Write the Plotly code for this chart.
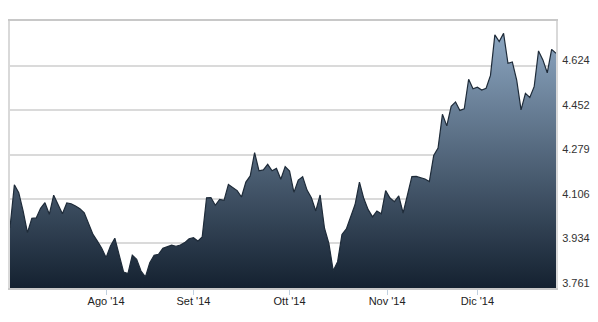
import numpy as np
import pandas as pd
import plotly.graph_objects as go

# Trading days (Borsa Italiana, Jul 2 - Dec 30 2014)
start_date = "2014-07-02"
end_date = "2014-12-30"
holidays = ["2014-08-15", "2014-12-24", "2014-12-25", "2014-12-26"]

prices = [
    3.995, 4.161, 4.131, 4.060, 3.976, 4.031, 4.033, 4.070, 4.092, 4.047,
    4.121, 4.086, 4.049, 4.091, 4.088, 4.079, 4.069, 4.053, 4.014, 3.969,
    3.943, 3.915, 3.879, 3.924, 3.954, 3.885, 3.823, 3.817, 3.888, 3.872,
    3.827, 3.804, 3.859, 3.888, 3.892, 3.915, 3.920, 3.927, 3.923, 3.928,
    3.937, 3.952, 3.956, 3.943, 3.959, 4.111, 4.112, 4.082, 4.105, 4.101,
    4.163, 4.151, 4.139, 4.114, 4.172, 4.196, 4.286, 4.216, 4.219, 4.241,
    4.216, 4.225, 4.183, 4.232, 4.215, 4.132, 4.180, 4.193, 4.141, 4.111,
    4.060, 4.122, 3.993, 3.934, 3.828, 3.863, 3.969, 3.990, 4.035, 4.085,
    4.172, 4.108, 4.065, 4.037, 4.060, 4.049, 4.139, 4.110, 4.096, 4.118,
    4.052, 4.127, 4.193, 4.194, 4.190, 4.184, 4.174, 4.275, 4.304, 4.435,
    4.390, 4.466, 4.483, 4.450, 4.456, 4.571, 4.534, 4.540, 4.529, 4.536,
    4.586, 4.743, 4.717, 4.749, 4.633, 4.638, 4.568, 4.452, 4.516, 4.500,
    4.542, 4.681, 4.646, 4.596, 4.687, 4.672,
]

month_starts = ["2014-08-01", "2014-09-01", "2014-10-01", "2014-11-01", "2014-12-01"]
month_labels = ["Ago '14", "Set '14", "Ott '14", "Nov '14", "Dic '14"]

y_ticks = [3.761, 3.934, 4.106, 4.279, 4.452, 4.624]
y_labels = ["3.761", "3.934", "4.106", "4.279", "4.452", "4.624"]
y_min, y_max = 3.761, 4.797

dates = pd.bdate_range(start_date, end_date)
dates = dates[~dates.isin(pd.to_datetime(holidays))]
n = len(prices)
dates = dates[:n]
x_idx = np.arange(n)

# ordinal positions of month starts
tick_pos = []
for m in pd.to_datetime(month_starts):
    i = int(np.searchsorted(dates.values, np.datetime64(m)))
    if i < n and dates[i] == m:
        tick_pos.append(float(i))
    else:
        a, b = dates[i - 1], dates[i]
        tick_pos.append(i - 1 + (m - a) / (b - a))

fig = go.Figure()
fig.add_trace(go.Scatter(
    x=x_idx, y=prices, mode="lines",
    line=dict(color="#1e2b39", width=1.2),
    fill="tozeroy",
    fillgradient=dict(type="vertical",
                      colorscale=[[0, "#142130"], [1, "#8ca6c1"]],
                      start=y_min, stop=max(prices)),
    hovertext=[d.strftime("%d/%m/%Y") for d in dates],
    showlegend=False,
))

fig.update_layout(
    width=598, height=322,
    margin=dict(l=8, r=41, t=21, b=34),
    paper_bgcolor="white", plot_bgcolor="white",
    font=dict(family="Liberation Sans, Arial, sans-serif", size=11, color="#333333"),
    xaxis=dict(
        range=[0, n - 1],
        tickvals=tick_pos, ticktext=month_labels,
        showgrid=False, zeroline=False,
        showline=True, linecolor="#c8c8c8", linewidth=2, mirror=True,
        ticks="outside", ticklen=5, tickcolor="#c0d0e0", tickwidth=1,
        ticklabelstandoff=-3,
        tickfont=dict(size=11, color="#222222"),
    ),
    yaxis=dict(
        range=[y_min, y_max], side="right",
        tickvals=y_ticks, ticktext=y_labels,
        showgrid=True, gridcolor="#dadada", gridwidth=2,
        zeroline=False,
        showline=True, linecolor="#d9d9d9", linewidth=2, mirror=True,
        ticks="", ticklabelshift=-5, ticklabelstandoff=2,
        tickfont=dict(size=11, color="#333333"),
    ),
)

fig.write_html("out.html")
